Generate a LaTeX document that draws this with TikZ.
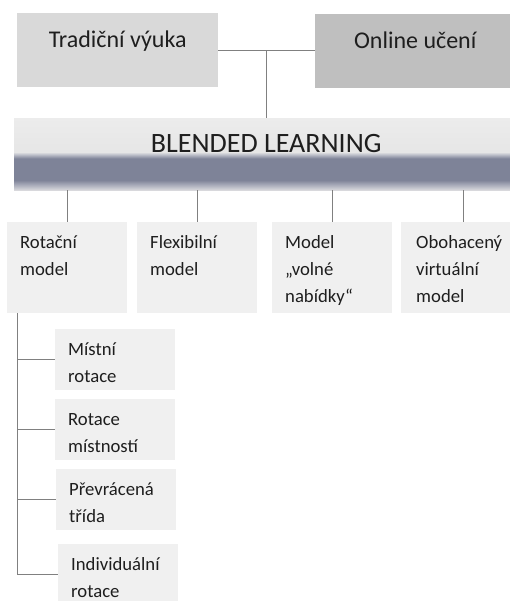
\documentclass[tikz,border=0pt]{standalone}
\usepackage{fontspec}
\setmainfont{Carlito}
\usepackage{xcolor}
\usepackage{tikz}
\definecolor{txtgray}{HTML}{1E1E1E}
\definecolor{linegray}{HTML}{808080}
\definecolor{tradgray}{HTML}{D9D9D9}
\definecolor{onlgray}{HTML}{BFBFBF}
\definecolor{boxgray}{HTML}{F0F0F0}
\definecolor{barbot}{HTML}{DADADD}
\definecolor{barmid}{HTML}{ABAEBC}
\definecolor{bardark}{HTML}{7E8398}
\definecolor{barfade}{HTML}{C3C5CE}
\definecolor{barlight}{HTML}{E6E6E6}
\definecolor{bartop}{HTML}{ECECEC}
\pgfdeclareverticalshading{blbar}{100bp}{%
  color(0bp)=(barbot); color(25bp)=(barbot);
  color(28.5bp)=(barmid); color(32bp)=(bardark);
  color(47bp)=(bardark); color(50bp)=(barfade);
  color(51.5bp)=(barlight); color(75bp)=(bartop); color(100bp)=(bartop)}
\tikzset{
  box/.style = {inner xsep=13pt, text=txtgray, anchor=north west},
  box_top/.style = {box, inner ysep=18pt, text height=16pt, text depth=22pt,
    font=\fontsize{24}{29}\selectfont},% horni dvojice
  box_bar/.style = {box, inner ysep=16pt, text height=18pt, text depth=22pt,
    minimum width=504pt, shading=blbar, font=\fontsize{28}{34}\selectfont},% pruh
  box_row/.style = {box, fill=boxgray, text width=94pt, align=left, inner ysep=12pt,
    text height=14pt, text depth=53pt, font=\fontsize{18.7}{27}\selectfont},% modely
  box_sub/.style = {box_row, text depth=23pt},% rotace
  link/.style = {draw=linegray, line width=1pt}
}
\begin{document}
\begin{tikzpicture}[x=1pt,y=-1pt]
\useasboundingbox (0,0) rectangle (509,601);
\node [box_top, fill=tradgray, minimum width=201pt] (trad) at (17,13) {Tradiční výuka};
\node [box_top, fill=onlgray, minimum width=200pt] (online) at (315,14) {Online učení};
\node [box_bar] (bar) at (14,118) {BLENDED LEARNING};
\draw [link] (trad.east) -- (trad.east -| online.west);
\draw [link] (bar.north) -- (bar.north |- trad.east);
% modely
\node [box_row] (rot) at (7,222) {Rotační\\model};
\node [box_row] (flex) at (137,222) {Flexibilní\\model};
\node [box_row] (volne) at (272,222) {Model\\„volné\\nabídky“};
\node [box_row, inner xsep=15pt] (oboh) at (401,222) {Obohacený\\virtuální\\model};
\foreach \n in {rot,flex,volne,oboh}
  \draw [link] (\n.north) -- (\n.north |- bar.south);
% rotacni model
\node [box_sub] (mistni) at (55,329) {Místní\\rotace};
\node [box_sub] (mistnosti) at (55,399) {Rotace\\místností};
\node [box_sub] (prevr) at (56,469) {Převrácená\\třída};
\node [box_sub] (indiv) at (58,544) {Individuální\\rotace};
\foreach \n in {mistni,mistnosti,prevr,indiv}
  \draw [link] ([xshift=10pt]rot.south west) |- (\n.west);
\end{tikzpicture}
\end{document}
